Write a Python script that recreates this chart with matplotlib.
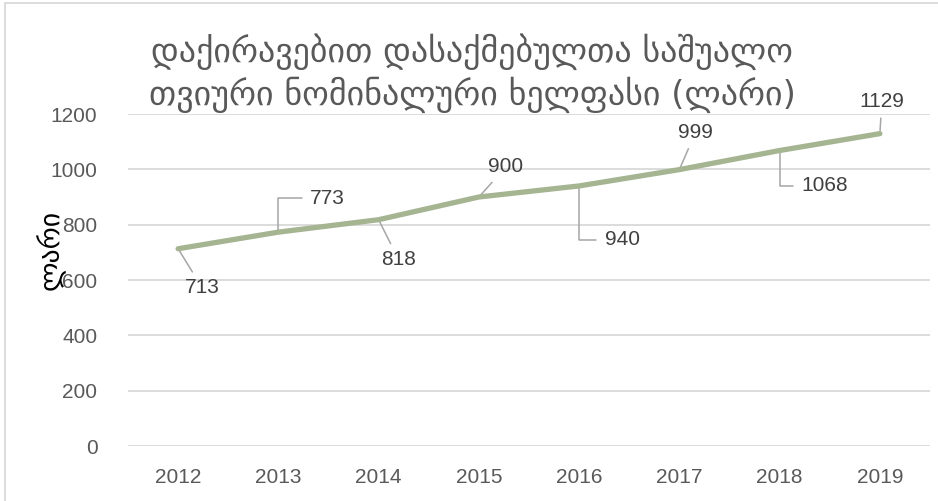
import matplotlib.pyplot as plt
from matplotlib.patches import Rectangle

years = ['2012', '2013', '2014', '2015', '2016', '2017', '2018', '2019']
salary = [713, 773, 818, 900, 940, 999, 1068, 1129]

# label offsets (pixels from the point) and leader shape for each year
label_dx = [24, 49, 20, 27, 43, 16, 45, 2]
label_dy = [-39, 34, -40, 30, -54, 37, -35, 32]
elbow = [False, True, False, False, True, False, True, False]

title = 'დაქირავებით დასაქმებულთა საშუალო\nთვიური ნომინალური ხელფასი (ლარი)'
ylabel = 'ლარი'

grey = '#595959'
grid = '#D9D9D9'
green = '#A5B592'
lead = '#A6A6A6'

fig = plt.figure(figsize=(9.38, 5.01), dpi=100)
ax = fig.add_axes([128 / 938, 1 - 446 / 501, 802 / 938, 332 / 501])

x = list(range(len(years)))
ax.plot(x, salary, color=green, lw=3.8, solid_capstyle='round', zorder=3)

for i, v in enumerate(salary):
    if elbow[i]:
        props = dict(arrowstyle='-', color=lead, lw=1.1, shrinkA=4, shrinkB=0,
                     relpos=(0, 0.5),
                     connectionstyle='angle,angleA=0,angleB=90,rad=0')
    else:
        props = dict(arrowstyle='-', color=lead, lw=1.1, shrinkA=3, shrinkB=0)
    ax.annotate(str(v), xy=(i, v), xytext=(label_dx[i], label_dy[i]),
                textcoords='offset pixels', ha='center', va='center',
                fontsize=15, color='#404040', family='Liberation Sans',
                arrowprops=props, zorder=2)

ax.set_xlim(-0.5, len(years) - 0.5)
ax.set_ylim(0, 1200)
ax.set_yticks(range(0, 1201, 200))
ax.set_xticks(x)
ax.set_xticklabels(years)
ax.yaxis.grid(True, color=grid, lw=1.3)
ax.set_axisbelow(True)
for s in ax.spines.values():
    s.set_visible(False)
ax.tick_params(length=0, colors=grey, labelsize=15)
ax.tick_params(axis='y', pad=22)
ax.tick_params(axis='x', pad=16)
for lab in ax.get_xticklabels() + ax.get_yticklabels():
    lab.set_family('Liberation Sans')

fig.text(50 / 938, 1 - 250 / 501, ylabel, rotation=90, ha='center', va='center',
         fontsize=20, color='black', family='DejaVu Sans')
fig.text(472 / 938, 1 - 73 / 501, title, ha='center', va='center',
         fontsize=24.5, color=grey, family='DejaVu Sans', linespacing=1.25)

# chart area frame
fig.patches.append(Rectangle((5 / 938, -0.1), 1.2, 1.1 - 3 / 501,
                             transform=fig.transFigure, fill=False,
                             edgecolor=grid, lw=1.3))

fig.savefig('out.png', dpi=100)
